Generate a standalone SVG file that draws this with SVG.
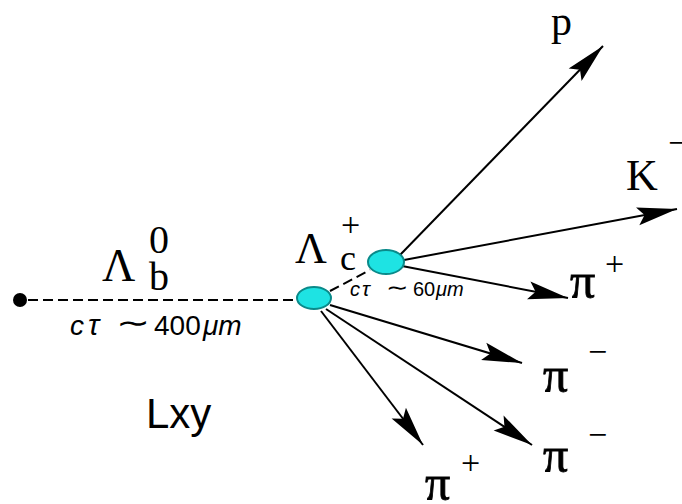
<svg xmlns="http://www.w3.org/2000/svg" width="682" height="504" viewBox="0 0 682 504">
<style>
.ln{stroke:#000;stroke-width:2;fill:none}
.arr{marker-end:url(#ah)}
.dash{stroke:#000;stroke-width:2;stroke-dasharray:10 5;fill:none}
.vtx{fill:#1ee3e3;stroke:#0a8a8a;stroke-width:2}
.sym{font-family:"Liberation Serif","Times New Roman",serif;fill:#000}
.big{font-size:44px}
.pi{font-size:50px;stroke:#000;stroke-width:0.8}
.sup{font-size:34px}
.ct{font-family:"Liberation Sans",Arial,sans-serif;fill:#000}
.it{font-style:italic}
</style>
<defs>
<marker id="ah" markerUnits="userSpaceOnUse" markerWidth="44" markerHeight="22" viewBox="-42 -11 44 22" refX="0" refY="0" orient="auto">
<path d="M0,0 L-40,-9 L-33,0 L-40,9 Z" fill="#000"/>
</marker>
</defs>
<g id="connectors">
<line class="dash" x1="28" y1="300" x2="297" y2="300"/>
<line class="dash" x1="330" y1="291" x2="370" y2="270"/>
<line class="ln arr" x1="400" y1="255" x2="603" y2="46"/>
<line class="ln arr" x1="404" y1="260" x2="677" y2="209"/>
<line class="ln arr" x1="402" y1="266" x2="568" y2="298"/>
<line class="ln arr" x1="330" y1="305" x2="522" y2="363"/>
<line class="ln arr" x1="326" y1="309" x2="532" y2="445"/>
<line class="ln arr" x1="321" y1="311" x2="423" y2="445"/>
</g>
<g id="origin"><circle cx="20" cy="300" r="7" fill="#000"/></g>
<g id="lambda-b-vertex"><ellipse class="vtx" cx="314" cy="298" rx="17" ry="11"/></g>
<g id="lambda-c-vertex"><ellipse class="vtx" cx="386" cy="262" rx="18" ry="12"/></g>
<g id="label-lambda-b">
<text class="sym" x="102" y="281" font-size="46">Λ</text>
<text class="sym" x="149" y="253" font-size="40">0</text>
<text class="sym" x="149" y="290" font-size="40">b</text>
</g>
<g id="label-ct-400">
<text class="ct it" x="70" y="335" font-size="28">c</text>
<text class="ct it" x="88" y="335" font-size="30">τ</text>
<text class="ct" x="116" y="333" font-size="30" textLength="34" lengthAdjust="spacingAndGlyphs">∼</text>
<text class="ct" x="154" y="335" font-size="28">400</text>
<text class="ct it" x="203" y="335" font-size="28">μm</text>
</g>
<g id="label-lambda-c">
<text class="sym" x="295" y="263" font-size="44">Λ</text>
<text class="sym sup" x="341" y="236">+</text>
<text class="sym" x="340" y="270" font-size="36">c</text>
</g>
<g id="label-ct-60">
<text class="ct it" x="350" y="296" font-size="20">c</text>
<text class="ct it" x="362" y="296" font-size="21">τ</text>
<text class="ct" x="386" y="295" font-size="22" textLength="22" lengthAdjust="spacingAndGlyphs">∼</text>
<text class="ct" x="413" y="296" font-size="20">60</text>
<text class="ct it" x="436" y="296" font-size="20">μm</text>
</g>
<g id="label-p"><text class="sym" x="551" y="35" font-size="42">p</text></g>
<g id="label-K">
<text class="sym big" x="626" y="190">K</text>
<text class="sym sup" x="668" y="154">−</text>
</g>
<g id="label-pi-plus-1">
<text class="sym pi" x="570" y="298">π</text>
<text class="sym sup" x="605" y="275">+</text>
</g>
<g id="label-pi-minus-1">
<text class="sym pi" x="543" y="392">π</text>
<text class="sym sup" x="588" y="363">−</text>
</g>
<g id="label-pi-minus-2">
<text class="sym pi" x="543" y="472">π</text>
<text class="sym sup" x="588" y="446">−</text>
</g>
<g id="label-pi-plus-2">
<text class="sym pi" x="425" y="500">π</text>
<text class="sym sup" x="461" y="474">+</text>
</g>
<g id="label-lxy"><text class="ct" x="146" y="428" font-size="42">Lxy</text></g>
</svg>
